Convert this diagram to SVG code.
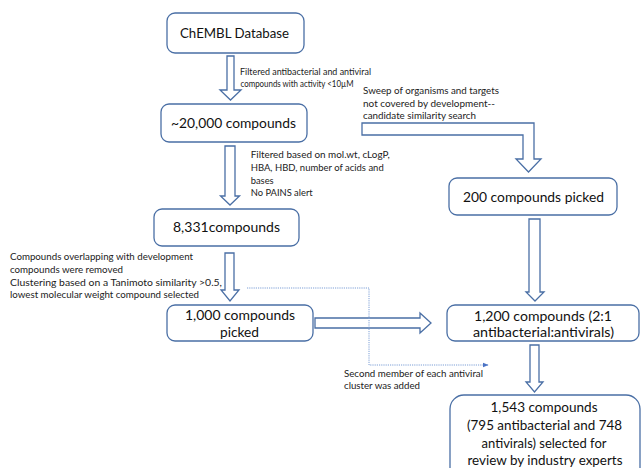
<svg xmlns="http://www.w3.org/2000/svg" width="643" height="468" viewBox="0 0 643 468">
<style>
.box{fill:#fff;stroke:#4a6fa5;stroke-width:1.3}
.arr{fill:#fff;stroke:#4a6fa5;stroke-width:1.3;stroke-linejoin:miter}
.big{font-family:Lato,"Open Sans",sans-serif;font-size:14px;fill:#111;text-anchor:middle}
.sm{font-family:Lato,"Open Sans",sans-serif;font-size:9.8px;fill:#222}
.dot{fill:none;stroke:#7d9fd6;stroke-width:1;stroke-dasharray:1.2 1}
</style>
<defs>
<marker id="ah" viewBox="0 0 10 10" refX="9" refY="5" markerWidth="6" markerHeight="6" orient="auto">
<path d="M0,1 L10,5 L0,9 z" fill="#4a72c4"/>
</marker>
</defs>
<rect width="643" height="468" fill="#fff"/>
<g id="connectors">
<path class="arr" d="M227,56 H234 V90 H241 L230.5,100 L220,90 H227 Z"/>
<path class="arr" d="M225,146 H235 V196 H239.5 L230,205 L220.5,196 H225 Z"/>
<path class="arr" d="M225,253 H234 V290 H239 L230,301 L221,290 H225 Z"/>
<path class="arr" d="M315,318 H420 V313 L431,323 L420,333 V328 H315 Z"/>
<path class="arr" d="M362,123 H534 V159 H541 L528.5,172 L516,159 H523 V135 H362 Z"/>
<path class="arr" d="M529,219 H540 V292 H544 L535,301 L526,292 H529 Z"/>
<path class="arr" d="M530,345 H539 V382 H543 L534.5,392 L526,382 H530 Z"/>
<path class="dot" d="M247,288 H369 V365 H488" marker-end="url(#ah)"/>
</g>
<g id="n-chembl">
<rect class="box" x="167" y="13" width="137" height="40" rx="8"/>
<text class="big" x="234.5" y="38" textLength="109" lengthAdjust="spacingAndGlyphs">ChEMBL Database</text>
</g>
<g id="n-20000">
<rect class="box" x="161" y="104" width="146" height="38" rx="8"/>
<text class="big" x="233.5" y="128" textLength="125" lengthAdjust="spacingAndGlyphs">~20,000 compounds</text>
</g>
<g id="n-8331">
<rect class="box" x="154" y="209" width="145" height="37" rx="8"/>
<text class="big" x="226.5" y="232" textLength="107" lengthAdjust="spacingAndGlyphs">8,331compounds</text>
</g>
<g id="n-1000">
<rect class="box" x="167" y="305" width="146" height="36" rx="8"/>
<text class="big" x="240" y="320" textLength="110" lengthAdjust="spacingAndGlyphs">1,000 compounds</text>
<text class="big" x="239.5" y="337" textLength="39" lengthAdjust="spacingAndGlyphs">picked</text>
</g>
<g id="n-200">
<rect class="box" x="449" y="178" width="168" height="37" rx="8"/>
<text class="big" x="533.5" y="201.5" textLength="141" lengthAdjust="spacingAndGlyphs">200 compounds picked</text>
</g>
<g id="n-1200">
<rect class="box" x="447" y="305" width="192" height="36" rx="8"/>
<text class="big" x="543" y="320.5" textLength="138" lengthAdjust="spacingAndGlyphs">1,200 compounds (2:1</text>
<text class="big" x="543.5" y="337" textLength="141" lengthAdjust="spacingAndGlyphs">antibacterial:antivirals)</text>
</g>
<g id="n-1543">
<rect class="box" x="450" y="395" width="190" height="95" rx="14"/>
<text class="big" x="544" y="412" textLength="107" lengthAdjust="spacingAndGlyphs">1,543 compounds</text>
<text class="big" x="544.5" y="430" textLength="155" lengthAdjust="spacingAndGlyphs">(795 antibacterial and 748</text>
<text class="big" x="544" y="448" textLength="125" lengthAdjust="spacingAndGlyphs">antivirals) selected for</text>
<text class="big" x="545" y="464.5" textLength="155" lengthAdjust="spacingAndGlyphs">review by industry experts</text>
</g>
<g id="labels">
<text class="sm" x="240" y="75" textLength="131" lengthAdjust="spacingAndGlyphs">Filtered antibacterial and antiviral</text>
<text class="sm" x="240.5" y="86.5" textLength="113" lengthAdjust="spacingAndGlyphs">compounds with activity &lt;10µM</text>
<text class="sm" x="363" y="94" textLength="136" lengthAdjust="spacingAndGlyphs">Sweep of organisms and targets</text>
<text class="sm" x="363" y="107" textLength="132" lengthAdjust="spacingAndGlyphs">not covered by development--</text>
<text class="sm" x="363" y="119" textLength="113" lengthAdjust="spacingAndGlyphs">candidate similarity search</text>
<text class="sm" x="250.7" y="158" textLength="139" lengthAdjust="spacingAndGlyphs">Filtered based on mol.wt, cLogP,</text>
<text class="sm" x="250.7" y="171" textLength="133" lengthAdjust="spacingAndGlyphs">HBA, HBD, number of acids and</text>
<text class="sm" x="250.7" y="184" textLength="23" lengthAdjust="spacingAndGlyphs">bases</text>
<text class="sm" x="250.7" y="196" textLength="62" lengthAdjust="spacingAndGlyphs">No PAINS alert</text>
<text class="sm" x="10" y="260" textLength="183" lengthAdjust="spacingAndGlyphs">Compounds overlapping with development</text>
<text class="sm" x="10" y="273" textLength="113" lengthAdjust="spacingAndGlyphs">compounds were removed</text>
<text class="sm" x="10" y="286" textLength="212" lengthAdjust="spacingAndGlyphs">Clustering based on a Tanimoto similarity &gt;0.5,</text>
<text class="sm" x="10" y="298" textLength="189" lengthAdjust="spacingAndGlyphs">lowest molecular weight compound selected</text>
<text class="sm" x="344" y="377" textLength="139" lengthAdjust="spacingAndGlyphs">Second member of each antiviral</text>
<text class="sm" x="344" y="389" textLength="76" lengthAdjust="spacingAndGlyphs">cluster was added</text>
</g>
</svg>
